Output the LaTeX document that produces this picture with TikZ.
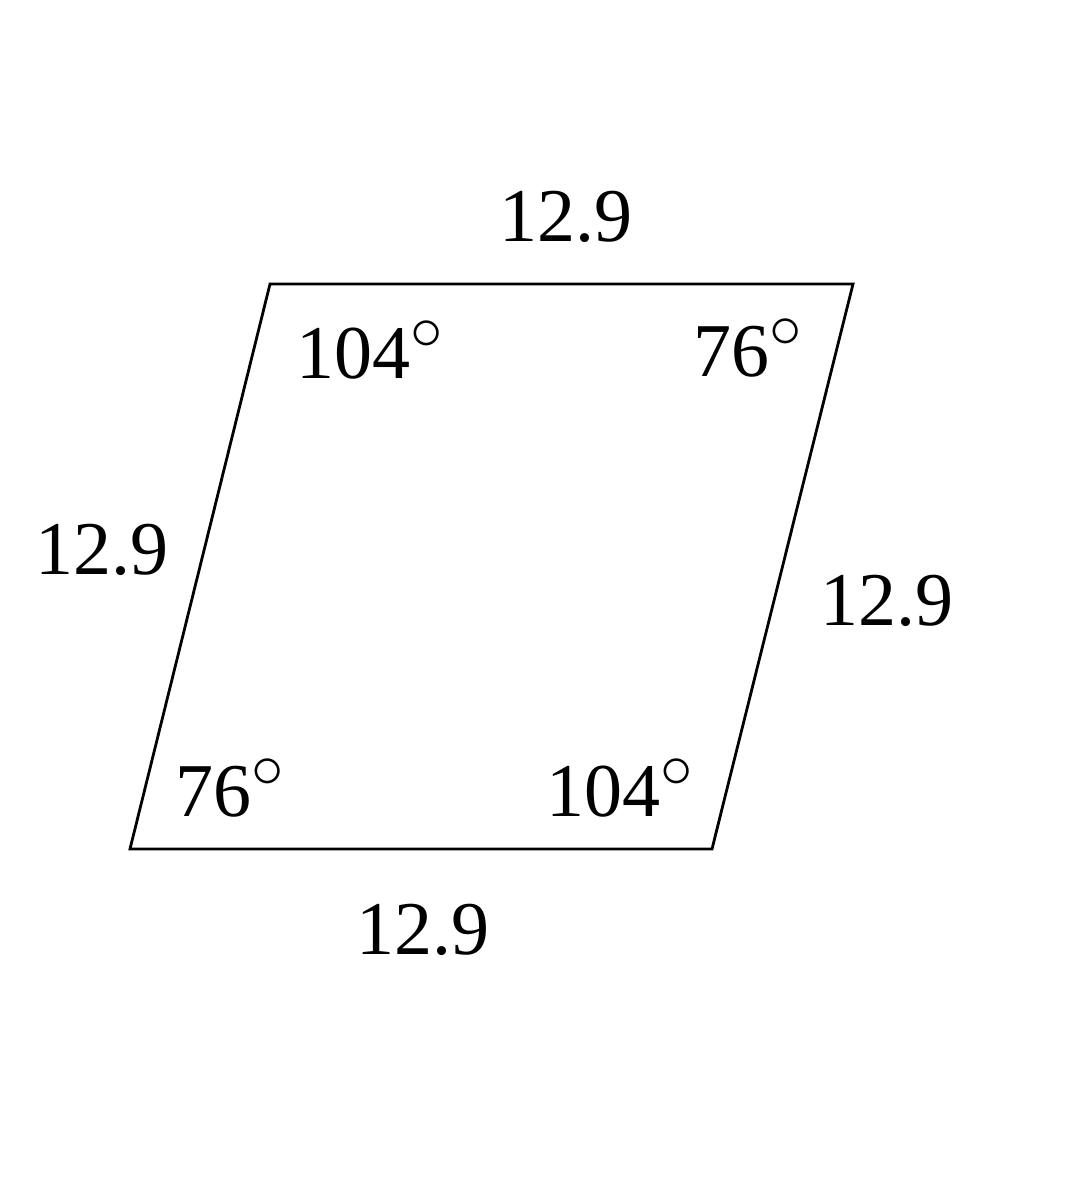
\documentclass[tikz,border=0pt]{standalone}
\usepackage{fontspec}
\setmainfont{Liberation Serif}
\usepackage{graphicx}
\newcommand{\dg}{\raisebox{3pt}{\scalebox{1.3}{$^{\circ}$}}}
\begin{document}
\begin{tikzpicture}[x=0.5pt,y=-0.5pt,
  lbl/.style={font=\fontsize{38}{40}\selectfont, inner sep=0pt, anchor=center},
  edge/.style={draw=black, line width=1.4pt, line join=miter}]
\useasboundingbox (0,0) rectangle (1073,1200);
\coordinate (A) at (270,284);
\coordinate (B) at (853,284);
\coordinate (C) at (712,849);
\coordinate (D) at (130,849);
\draw[edge] (A) -- (B) -- (C) -- (D) -- cycle;
\node[lbl] (top) at (566,217) {12.9};
\node[lbl] (left) at (102,550) {12.9};
\node[lbl] (right) at (887,601) {12.9};
\node[lbl] (bottom) at (423,930) {12.9};
\node[lbl] (aA) at (370,350) {104\dg};
\node[lbl] (aB) at (748,348) {76\dg};
\node[lbl] (aD) at (230,788) {76\dg};
\node[lbl] (aC) at (620,788) {104\dg};
\end{tikzpicture}
\end{document}
